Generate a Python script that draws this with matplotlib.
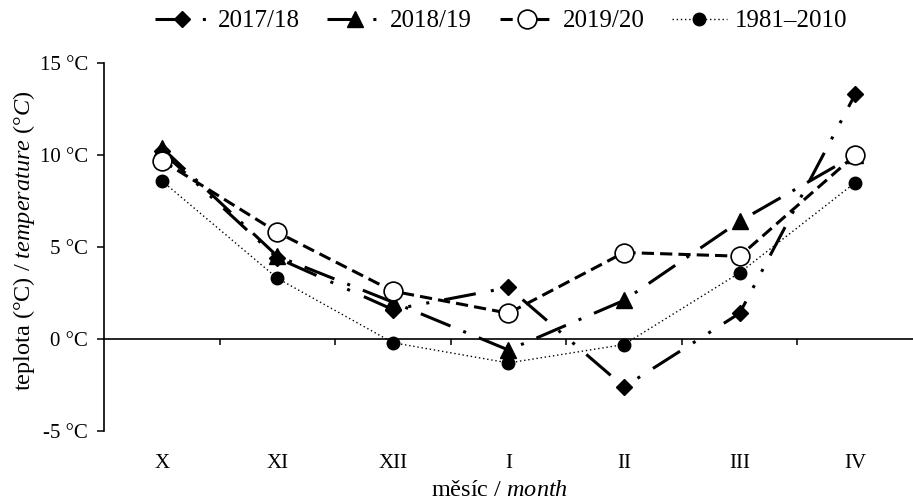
import matplotlib.pyplot as plt

plt.rcParams['font.family'] = 'Liberation Serif'
plt.rcParams['mathtext.fontset'] = 'custom'
plt.rcParams['mathtext.rm'] = 'Liberation Serif'
plt.rcParams['mathtext.it'] = 'Liberation Serif:italic'

months = ['X', 'XI', 'XII', 'I', 'II', 'III', 'IV']
t_2017 = [10.2, 4.4, 1.6, 2.8, -2.6, 1.4, 13.3]
t_2018 = [10.4, 4.5, 2.0, -0.6, 2.1, 6.4, 10.0]
t_2019 = [9.7, 5.8, 2.6, 1.4, 4.7, 4.5, 10.0]
t_norm = [8.6, 3.3, -0.2, -1.3, -0.3, 3.6, 8.5]

yticks = [-5, 0, 5, 10, 15]

fig = plt.figure(figsize=(9.13, 5.03), dpi=100)
ax = fig.add_axes([0.1139, 0.1431, 0.8861, 0.7317])

x = list(range(len(months)))
ax.plot(x, t_2017, color='black', lw=2.2, dashes=(10.5, 5, 1, 5, 1, 5),
        marker='D', ms=8.5, mfc='black', mec='black', label='2017/18')
ax.plot(x, t_2018, color='black', lw=2.2, dashes=(10.5, 4.5, 1, 4.5),
        marker='^', ms=12, mfc='black', mec='black', label='2018/19')
ax.plot(x, t_2019, color='black', lw=2.2, dashes=(4, 2),
        marker='o', ms=13.5, mfc='white', mec='black', mew=1.2, label='2019/20')
ax.plot(x, t_norm, color='black', lw=1.0, dashes=(1, 2),
        marker='o', ms=9, mfc='black', mec='black', label='1981–2010')

ax.set_xlim(-0.5, len(months) - 0.5)
ax.set_ylim(-5, 15)

# y axis with degree labels
ax.set_yticks(yticks)
ax.set_yticklabels([f'{v} °C' for v in yticks])
ax.tick_params(axis='y', direction='out', length=5, width=1.1, labelsize=15, pad=6.5)

# horizontal axis crosses at zero, ticks between categories
ax.spines['top'].set_visible(False)
ax.spines['right'].set_visible(False)
ax.spines['bottom'].set_position(('data', 0))
ax.spines['left'].set_linewidth(1.2)
ax.spines['bottom'].set_linewidth(1.2)
ax.set_xticks([i + 0.5 for i in x[:-1]])
ax.set_xticklabels([])
ax.tick_params(axis='x', direction='out', length=4.5, width=1.1)

# month labels along the bottom of the plot area
sec = ax.secondary_xaxis('bottom')
sec.set_xticks(x)
sec.set_xticklabels(months)
sec.tick_params(length=0, labelsize=15, pad=16.5)
sec.spines['bottom'].set_visible(False)

fig.text(24 / 913, 1 - 241 / 503, r'teplota (°C) / $\mathit{temperature\ (°C)}$',
         fontsize=17.5, rotation=90, ha='center', va='center')
fig.text(500 / 913, 1 - 490 / 503, r'měsíc / $\mathit{month}$',
         fontsize=17.5, ha='center', va='center')

fig.legend(loc='center', bbox_to_anchor=(501 / 913, 1 - 21 / 503), ncol=4, frameon=False,
           fontsize=18, handlelength=2.2, handletextpad=0.32, columnspacing=1.1,
           borderpad=0.2)

fig.savefig('out.png', dpi=100)
